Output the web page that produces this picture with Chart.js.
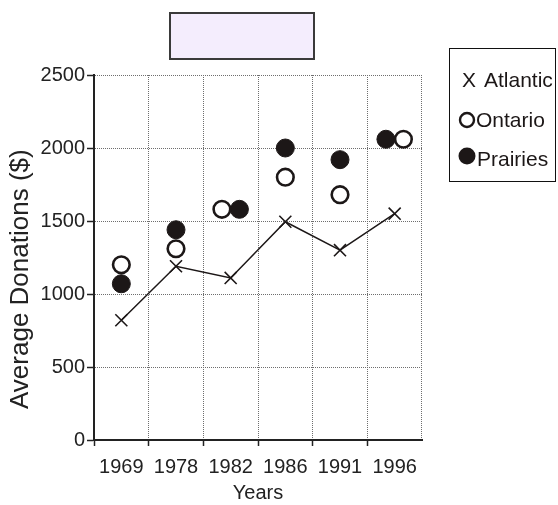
<!DOCTYPE html>
<html>
<head>
<meta charset="utf-8">
<script src="https://cdn.jsdelivr.net/npm/chart.js@4/dist/chart.umd.min.js"></script>
<style>
  html, body { margin: 0; padding: 0; background: #fff; }
  #wrap { position: relative; width: 558px; height: 505px; }
</style>
</head>
<body>
<div id="wrap"><canvas id="donationsChart" width="558" height="505"></canvas></div>
<script>
// data
var years = ['1969', '1978', '1982', '1986', '1991', '1996'];
var atlantic = [820, 1190, 1110, 1495, 1300, 1550];
var ontario = [1200, 1310, 1580, 1800, 1680, 2060];
var prairies = [1070, 1440, 1580, 2000, 1920, 2060];
// where Ontario and Prairies coincide they sit side by side (-1 left, +1 right, for Ontario)
var ontarioSide = [0, 0, -1, 0, 0, 1];
var yTicks = [0, 500, 1000, 1500, 2000, 2500];

var SIDE_STEP = 0.16; // fraction of a category
var ink = '#1c1717';
var font = "'Liberation Sans', Arial, sans-serif";

function toPoints(values, side) {
    return values.map(function (v, i) {
        return { x: i + (side ? side[i] * SIDE_STEP : 0), y: v };
    });
}

// empty lilac title box and the boxed legend
var decorations = {
    id: 'decorations',
    afterDraw: function (chart) {
        var ctx = chart.ctx;
        ctx.save();
        ctx.fillStyle = '#f4edfd';
        ctx.fillRect(170, 13, 144, 46);
        ctx.strokeStyle = '#3a3a3a';
        ctx.lineWidth = 2;
        ctx.strokeRect(170, 13, 144, 46);

        ctx.strokeStyle = '#111';
        ctx.lineWidth = 1;
        ctx.strokeRect(449.5, 48.5, 106, 133);

        ctx.font = '21px ' + font;
        ctx.fillStyle = ink;
        ctx.textBaseline = 'middle';
        ctx.textAlign = 'left';
        ctx.fillText('X', 462, 81);
        ctx.fillText('Atlantic', 484, 81);

        ctx.beginPath();
        ctx.arc(467, 120, 7, 0, Math.PI * 2);
        ctx.lineWidth = 2.4;
        ctx.strokeStyle = ink;
        ctx.stroke();
        ctx.fillText('Ontario', 476, 121);

        ctx.beginPath();
        ctx.arc(467, 156, 8.5, 0, Math.PI * 2);
        ctx.fill();
        ctx.fillText('Prairies', 477, 160);
        ctx.restore();
    }
};

var ctx = document.getElementById('donationsChart').getContext('2d');
var chart = new Chart(ctx, {
    type: 'line',
    data: {
        labels: years,
        datasets: [{
            label: 'Atlantic',
            data: toPoints(atlantic),
            xAxisID: 'xv',
            showLine: true,
            borderColor: ink,
            borderWidth: 1.5,
            pointStyle: 'crossRot',
            pointRadius: 8.5,
            pointBorderWidth: 1.6,
            pointBorderColor: ink,
            tension: 0
        }, {
            label: 'Ontario',
            data: toPoints(ontario, ontarioSide),
            xAxisID: 'xv',
            showLine: false,
            pointStyle: 'circle',
            pointRadius: 8.3,
            pointBorderWidth: 2.6,
            pointBorderColor: ink,
            pointBackgroundColor: '#fff'
        }, {
            label: 'Prairies',
            data: toPoints(prairies, ontarioSide.map(function (s) { return -s; })),
            xAxisID: 'xv',
            showLine: false,
            pointStyle: 'circle',
            pointRadius: 9,
            pointBorderWidth: 1,
            pointBorderColor: ink,
            pointBackgroundColor: ink
        }]
    },
    options: {
        responsive: false,
        animation: false,
        layout: { padding: { left: 0, right: 136, top: 75, bottom: 0 } },
        plugins: {
            legend: { display: false },
            tooltip: { enabled: false }
        },
        scales: {
            xv: {
                type: 'linear',
                display: false,
                min: -0.5,
                max: 5.5
            },
            x: {
                type: 'category',
                position: 'bottom',
                offset: true,
                afterFit: function (s) { s.height = 65; },
                grid: {
                    offset: true,
                    color: '#6e6e6e',
                    lineWidth: 1,
                    tickLength: 6,
                    tickColor: function (c) { return c.index === undefined || c.index >= years.length ? 'rgba(0,0,0,0)' : '#222'; },
                    tickWidth: 1.5,
                    tickBorderDash: []
                },
                border: { display: true, color: '#222', width: 2, dash: [1, 1] },
                ticks: {
                    color: '#222',
                    padding: 9,
                    maxRotation: 0,
                    font: { family: font, size: 20 }
                },
                title: {
                    display: true,
                    text: 'Years',
                    color: '#222',
                    padding: { top: 4, bottom: 0 },
                    font: { family: font, size: 20 }
                }
            },
            y: {
                type: 'linear',
                min: 0,
                max: 2500,
                afterFit: function (s) { s.width = 94; },
                afterBuildTicks: function (s) {
                    s.ticks = yTicks.map(function (v) { return { value: v }; });
                },
                grid: {
                    color: '#6e6e6e',
                    lineWidth: 1,
                    tickLength: 7,
                    tickColor: '#222',
                    tickWidth: 1.5,
                    tickBorderDash: []
                },
                border: { display: true, color: '#222', width: 2, dash: [1, 1] },
                ticks: {
                    color: '#222',
                    padding: 2,
                    font: { family: font, size: 20 },
                    callback: function (v) { return String(v); }
                },
                title: {
                    display: true,
                    text: 'Average Donations ($)      ',
                    color: '#222',
                    padding: { top: 5, bottom: 0 },
                    font: { family: font, size: 26 }
                }
            }
        }
    },
    plugins: [decorations]
});
</script>
</body>
</html>
